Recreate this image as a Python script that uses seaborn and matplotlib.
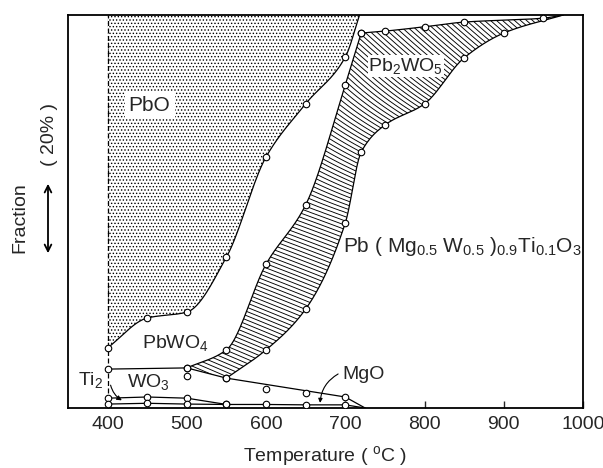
import numpy as np
import matplotlib
matplotlib.use("Agg")
import matplotlib.pyplot as plt
from matplotlib.patches import Polygon
import seaborn as sns

# ---- data (temperature in C, fraction in % of the frame) ----
# PbO / PbWO4 boundary
pbo_T = [400, 450, 500, 550, 600, 650, 700, 718]
pbo_v = [15.3, 22.9, 24.4, 38.4, 63.9, 77.4, 89.3, 100.0]
# left (upper) edge of hatched band, PbWO4 side
band_left_T = [500, 550, 600, 650, 700, 720]
band_left_v = [10.2, 14.8, 36.6, 51.7, 82.2, 95.4]
# right (lower) edge of hatched band, perovskite side
band_right_T = [550, 600, 650, 700, 720, 750, 800, 850, 900, 975]
band_right_v = [7.6, 14.8, 25.2, 47.1, 65.1, 72.0, 77.4, 89.1, 95.4, 100.0]
# top edge of Pb2WO5
pb2wo5_top_T = [720, 750, 800, 850, 950, 975]
pb2wo5_top_v = [95.4, 95.9, 97.0, 98.2, 99.2, 100.0]
# WO3 top line
wo3_T = [400, 500, 550, 700, 725]
wo3_v = [9.9, 10.2, 7.6, 2.8, 0.0]
wo3_extra_T = [500, 600, 650]
wo3_extra_v = [8.1, 4.8, 3.8]
# TiO2 top line
tio2_T = [400, 450, 500, 550]
tio2_v = [2.5, 2.8, 2.5, 0.9]
# MgO top line
mgo_T = [400, 450, 500, 550, 600, 650, 700, 725]
mgo_v = [1.0, 1.2, 1.0, 0.9, 0.9, 0.8, 0.8, 0.0]

x_ticks = [400, 500, 600, 700, 800, 900, 1000]

FIG_W, FIG_H = 603, 468
AX_L, AX_R, AX_T, AX_B = 68, 583, 15, 408
PX_T = (AX_R - AX_L) / 650.0
PX_V = (AX_B - AX_T) / 100.0


def pchip(x, y, n=200):
    x = np.asarray(x, float)
    y = np.asarray(y, float)
    h = np.diff(x)
    d = np.diff(y) / h
    m = np.zeros_like(x)
    m[0], m[-1] = d[0], d[-1]
    for k in range(1, len(x) - 1):
        if d[k - 1] * d[k] > 0:
            w1 = 2 * h[k] + h[k - 1]
            w2 = h[k] + 2 * h[k - 1]
            m[k] = (w1 + w2) / (w1 / d[k - 1] + w2 / d[k])
    xs = np.linspace(x[0], x[-1], n)
    i = np.clip(np.searchsorted(x, xs, side="right") - 1, 0, len(x) - 2)
    t = (xs - x[i]) / h[i]
    h00 = 2 * t**3 - 3 * t**2 + 1
    h10 = t**3 - 2 * t**2 + t
    h01 = -2 * t**3 + 3 * t**2
    h11 = t**3 - t**2
    ys = h00 * y[i] + h10 * h[i] * m[i] + h01 * y[i + 1] + h11 * h[i] * m[i + 1]
    return xs, ys


def markers(ax, T, v):
    T = np.asarray(T, float)
    v = np.asarray(v, float)
    keep = (v > 0) & (v < 100)
    sns.scatterplot(x=T[keep], y=v[keep], ax=ax, s=22, marker="o",
                    facecolor="white", edgecolor="black", linewidth=0.8, zorder=6)


def band_hatch(ax, patch, left_T, left_v, right_T, right_v):
    # hatch lines whose slant changes with height, clipped to the band
    Tg = np.linspace(490, 1000, 1100)
    vg = np.linspace(0, 100, 520)
    TT, VV = np.meshgrid(Tg, vg)
    X = (TT - 350) * PX_T
    Yg = vg * PX_V
    theta = np.radians(np.interp(vg, [0, 50, 85, 100], [24, 20, 40, 42]))
    lft = np.interp(vg, left_v, left_T)
    rgt = np.interp(vg, right_v, right_T)
    xc = ((lft + rgt) / 2 - 350) * PX_T
    dth = np.gradient(theta, Yg)
    gp = np.cos(theta) * (1 - xc * dth)
    G = np.concatenate([[0], np.cumsum((gp[1:] + gp[:-1]) / 2 * np.diff(Yg))])
    phi = X * np.sin(theta)[:, None] + G[:, None]
    levels = np.arange(phi.min(), phi.max(), 4.0)
    cs = ax.contour(TT, VV, phi, levels=levels, colors="black", linewidths=0.65, zorder=2)
    cs.set_clip_path(patch)


def main() -> None:
    sns.set_theme(style="ticks")
    plt.rcParams["font.family"] = ["Liberation Sans", "DejaVu Sans"]
    plt.rcParams["mathtext.fontset"] = "custom"
    plt.rcParams["mathtext.rm"] = "Liberation Sans"
    plt.rcParams["mathtext.it"] = "Liberation Sans:italic"
    plt.rcParams["hatch.linewidth"] = 0.6

    fig = plt.figure(figsize=(FIG_W / 100, FIG_H / 100), dpi=100)
    ax = fig.add_axes([AX_L / FIG_W, 1 - AX_B / FIG_H,
                       (AX_R - AX_L) / FIG_W, (AX_B - AX_T) / FIG_H])
    ax.set_xlim(350, 1000)
    ax.set_ylim(0, 100)

    lw = 0.9
    aT, av = pchip(pbo_T, pbo_v)
    bT, bv = pchip(band_left_T, band_left_v)
    cT, cv = pchip(band_right_T, band_right_v)
    dT, dv = pchip(pb2wo5_top_T, pb2wo5_top_v)

    # PbO dotted area
    ax.fill_between(aT, av, 100, facecolor="white", edgecolor="black",
                    hatch=".....", linewidth=0, zorder=1)

    # hatched band (lower tip follows the WO3 line)
    tip_T = np.linspace(wo3_T[1], wo3_T[2], 10)
    tip_v = np.interp(tip_T, wo3_T, wo3_v)
    poly_T = np.concatenate([tip_T, cT, dT[::-1], bT[::-1]])
    poly_v = np.concatenate([tip_v, cv, dv[::-1], bv[::-1]])
    patch = Polygon(np.column_stack([poly_T, poly_v]), closed=True,
                    facecolor="none", edgecolor="none")
    ax.add_patch(patch)
    band_hatch(ax, patch,
               np.concatenate([bT, dT[1:]]), np.concatenate([bv, dv[1:]]), cT, cv)

    for T, v in [(aT, av), (bT, bv), (cT, cv), (dT, dv)]:
        ax.plot(T, v, color="black", lw=lw, zorder=4)
    for T, v in [(wo3_T, wo3_v), (tio2_T, tio2_v), (mgo_T, mgo_v)]:
        ax.plot(T, v, color="black", lw=lw, zorder=4)

    ax.axvline(400, color="black", lw=0.9, ls=(0, (4, 2)), zorder=3)

    for T, v in [(pbo_T, pbo_v), (band_left_T, band_left_v), (band_right_T, band_right_v),
                 (pb2wo5_top_T, pb2wo5_top_v), (wo3_T, wo3_v), (wo3_extra_T, wo3_extra_v),
                 (tio2_T, tio2_v), (mgo_T, mgo_v)]:
        markers(ax, T, v)

    fs = 14
    ax.text(453, 77, "PbO", fontsize=15, ha="center", va="center", zorder=7,
            bbox=dict(fc="white", ec="none", pad=3))
    ax.text(729, 87, "Pb$_2$WO$_5$", fontsize=fs, ha="left", va="center", zorder=7,
            bbox=dict(fc="white", ec="none", pad=0.5))
    ax.text(443, 16.5, "PbWO$_4$", fontsize=fs, ha="left", va="center", zorder=7)
    ax.text(697, 41, "Pb ( Mg$_{0.5}$ W$_{0.5}$ )$_{0.9}$Ti$_{0.1}$O$_3$",
            fontsize=15, ha="left", va="center", zorder=7)
    ax.text(362, 7.0, "Ti$_2$", fontsize=fs, ha="left", va="center", zorder=7)
    ax.text(425, 6.6, "WO$_3$", fontsize=fs, ha="left", va="center", zorder=7)
    ax.text(696, 8.4, "MgO", fontsize=fs, ha="left", va="center", zorder=7)

    ax.annotate("", xy=(421, 1.6), xytext=(403, 6.5),
                arrowprops=dict(arrowstyle="-|>", lw=0.8, color="black",
                                mutation_scale=7, connectionstyle="arc3,rad=0.25"))
    ax.annotate("", xy=(668, 0.6), xytext=(694, 9.0),
                arrowprops=dict(arrowstyle="-|>", lw=0.8, color="black",
                                mutation_scale=6, connectionstyle="arc3,rad=0.3"))

    ax.set_xticks(x_ticks)
    ax.set_yticks([])
    ax.tick_params(axis="x", direction="in", length=5, width=1, labelsize=14, pad=6)
    for side in ["left", "right", "top", "bottom"]:
        ax.spines[side].set_visible(True)
        ax.spines[side].set_linewidth(1.3)
        ax.spines[side].set_color("black")
    ax.set_xlabel("Temperature ( $^{\\rm o}$C )", fontsize=14, labelpad=8)
    ax.set_ylabel("")

    fig.text(20 / FIG_W, 1 - 218 / FIG_H, "Fraction", rotation=90, fontsize=14,
             ha="center", va="center")
    fig.text(49 / FIG_W, 1 - 135 / FIG_H, "( 20% )", rotation=90, fontsize=14,
             ha="center", va="center")
    ax.annotate("", xy=(48 / FIG_W, 1 - 181 / FIG_H), xytext=(48 / FIG_W, 1 - 256 / FIG_H),
                xycoords="figure fraction", textcoords="figure fraction",
                arrowprops=dict(arrowstyle="<->", lw=1.3, color="black", mutation_scale=12))

    fig.savefig("out.png", dpi=100)
    plt.close(fig)


if __name__ == "__main__":
    main()
